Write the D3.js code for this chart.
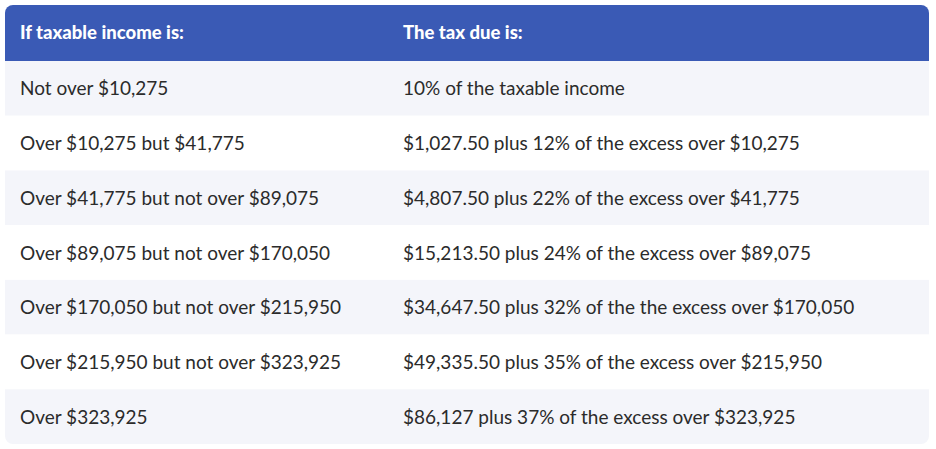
<!DOCTYPE html>
<html>
<head>
<meta charset="utf-8">
<title>Tax brackets</title>
<script src="https://d3js.org/d3.v7.min.js"></script>
<style>
  body { margin: 0; background: #fff; }
</style>
</head>
<body>
<svg id="chart" width="936" height="449"></svg>
<script>
// table content
var headers = ["If taxable income is:", "The tax due is:"];
var incomeRanges = [
  "Not over $10,275",
  "Over $10,275 but $41,775",
  "Over $41,775 but not over $89,075",
  "Over $89,075 but not over $170,050",
  "Over $170,050 but not over $215,950",
  "Over $215,950 but not over $323,925",
  "Over $323,925"
];
var taxDue = [
  "10% of the taxable income",
  "$1,027.50 plus 12% of the excess over $10,275",
  "$4,807.50 plus 22% of the excess over $41,775",
  "$15,213.50 plus 24% of the excess over $89,075",
  "$34,647.50 plus 32% of the the excess over $170,050",
  "$49,335.50 plus 35% of the excess over $215,950",
  "$86,127 plus 37% of the excess over $323,925"
];

var svg = d3.select("#chart");
var tLeft = 5, tRight = 929, tTop = 5, headH = 56, tBottom = 444;
var font = "Lato, 'Noto Sans', sans-serif";

var y = d3.scaleBand().domain(d3.range(incomeRanges.length)).range([tTop + headH, tBottom]);
var colX = [20, 403];

// clip for rounded corners
svg.append("clipPath").attr("id", "rc")
  .append("rect").attr("x", tLeft).attr("y", tTop).attr("width", tRight - tLeft).attr("height", tBottom - tTop).attr("rx", 8);

var g = svg.append("g").attr("clip-path", "url(#rc)");

g.append("rect").attr("x", tLeft).attr("y", tTop).attr("width", tRight - tLeft).attr("height", headH).attr("fill", "#3a5ab5");

g.selectAll("rect.row").data(incomeRanges).enter().append("rect")
  .attr("class", "row")
  .attr("x", tLeft).attr("y", function(d, i) { return y(i); })
  .attr("width", tRight - tLeft).attr("height", y.bandwidth())
  .attr("fill", function(d, i) { return i % 2 == 0 ? "#f4f5fa" : "#ffffff"; });

svg.selectAll("text.head").data(headers).enter().append("text")
  .attr("class", "head")
  .attr("x", function(d, i) { return colX[i]; })
  .attr("y", tTop + headH / 2 + 6)
  .attr("fill", "#fff").attr("font-family", font).attr("font-weight", 900).attr("font-size", 18.5)
  .text(function(d) { return d; });

function col(data, i) {
  svg.selectAll("text.c" + i).data(data).enter().append("text")
    .attr("class", "c" + i)
    .attr("x", colX[i])
    .attr("y", function(d, j) { return y(j) + y.bandwidth() / 2 + 7; })
    .attr("fill", "#2b2b2b").attr("font-family", font).attr("font-size", 19)
    .text(function(d) { return d; });
}
col(incomeRanges, 0);
col(taxDue, 1);
</script>
</body>
</html>
